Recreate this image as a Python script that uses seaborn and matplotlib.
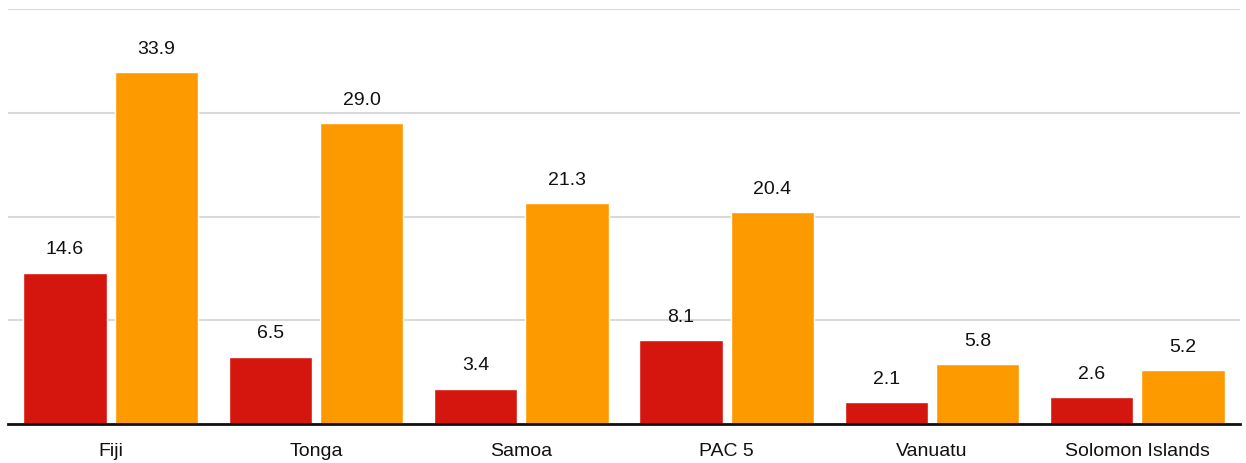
import matplotlib
matplotlib.use("Agg")
import matplotlib.pyplot as plt
import seaborn as sns
import pandas as pd

# Values per country for the two series
countries = ["Fiji", "Tonga", "Samoa", "PAC 5", "Vanuatu", "Solomon Islands"]
series_a = [14.6, 6.5, 3.4, 8.1, 2.1, 2.6]
series_b = [33.9, 29.0, 21.3, 20.4, 5.8, 5.2]
series_names = ["A", "B"]
palette = {"A": "#d5160e", "B": "#fd9a00"}

df = pd.DataFrame({
    "country": countries * 2,
    "series": [series_names[0]] * len(countries) + [series_names[1]] * len(countries),
    "value": series_a + series_b,
})

sns.set_theme(style="white")
plt.rcParams["font.family"] = ["Liberation Sans", "DejaVu Sans"]

fig = plt.figure(figsize=(12.46, 4.64), dpi=100)
ax = fig.add_axes([8 / 1246, 1 - 425 / 464, 1232 / 1246, 415 / 464])

sns.barplot(data=df, x="country", y="value", hue="series", palette=palette,
            width=0.89, gap=0.09, saturation=1, legend=False, ax=ax,
            errorbar=None)

ax.set_ylim(0, 40)
ax.set_xlim(-0.5, len(countries) - 0.5)
ax.set_yticks([0, 10, 20, 30, 40])
ax.set_yticklabels([])
ax.yaxis.grid(True, color="#d9d9d9", linewidth=1.5)
ax.set_axisbelow(True)
ax.tick_params(axis="both", length=0)
ax.tick_params(axis="x", labelsize=14, colors="#111111", pad=13)
ax.set_xlabel("")
ax.set_ylabel("")
for side in ["top", "right", "left"]:
    ax.spines[side].set_visible(False)
ax.spines["bottom"].set_color("#111111")
ax.spines["bottom"].set_linewidth(2)

for container in ax.containers:
    ax.bar_label(container, labels=[f"{v:.1f}" for v in container.datavalues],
                 padding=11, fontsize=14, color="#111111")

fig.savefig("out.png", dpi=100)
